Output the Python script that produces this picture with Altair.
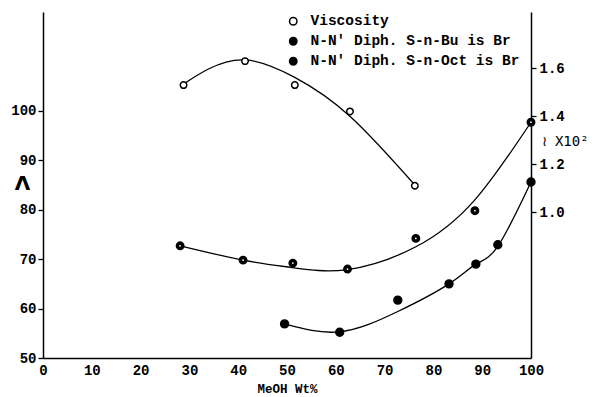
import altair as alt
import pandas as pd

# ---- data ----
SERIES = ["Viscosity", "N-N' Diph. S-n-Bu is Br", "N-N' Diph. S-n-Oct is Br"]

visc_x = [28.8, 41.4, 51.6, 62.9, 76.2]
visc_y = [1.53, 1.63, 1.53, 1.42, 1.11]
visc_curve_x = [28.8, 34.0, 41.5, 51.5, 63.0, 76.2]
visc_curve_y = [1.534, 1.598, 1.635, 1.563, 1.398, 1.113]

bu_x = [28.1, 41.0, 51.2, 62.4, 76.4, 88.5, 100.0]
bu_y = [72.7, 69.8, 69.2, 68.0, 74.2, 79.8, 97.7]
bu_curve_x = [28.1, 41.0, 51.0, 62.4, 76.4, 88.5, 100.0]
bu_curve_y = [72.7, 69.8, 68.3, 67.9, 72.5, 82.0, 97.7]

oct_x = [49.5, 60.8, 72.7, 83.2, 88.7, 93.2, 100.0]
oct_y = [56.9, 55.2, 61.7, 65.0, 69.0, 72.9, 85.6]
oct_curve_x = [49.5, 60.8, 72.7, 83.2, 88.7, 93.2, 100.0]
oct_curve_y = [56.9, 55.3, 59.4, 65.0, 69.0, 72.6, 85.6]

x_ticks = [0, 10, 20, 30, 40, 50, 60, 70, 80, 90, 100]
left_ticks = [50, 60, 70, 80, 90, 100]
right_ticks = [1.0, 1.2, 1.4, 1.6]

FONT = "Liberation Mono"

def df(xs, ys, name):
    return pd.DataFrame({"x": xs, "y": ys, "series": name})

visc_pts = df(visc_x, visc_y, SERIES[0])
visc_crv = df(visc_curve_x, visc_curve_y, SERIES[0])
bu_pts = df(bu_x, bu_y, SERIES[1])
bu_crv = df(bu_curve_x, bu_curve_y, SERIES[1])
oct_pts = df(oct_x, oct_y, SERIES[2])
oct_crv = df(oct_curve_x, oct_curve_y, SERIES[2])

X = alt.X("x:Q", scale=alt.Scale(domain=[0, 100], nice=False),
          axis=alt.Axis(values=x_ticks, format="d", ticks=False, labelPadding=5, grid=False,
                        labelFlush=False,
                        title="MeOH Wt%", titlePadding=5, titleFontSize=12.5,
                        titleFontWeight="bold", titleFont=FONT))

YL = alt.Y("y:Q", scale=alt.Scale(domain=[50, 120], nice=False, zero=False),
           axis=alt.Axis(orient="left", values=left_ticks, format="d", tickSize=5, grid=False,
                         labelPadding=2, title="Λ", titleAngle=0, titleX=-21, titleY=171,
                         titleAlign="center", titleBaseline="middle", titleFontSize=20,
                         titleFont="DejaVu Sans", titleFontWeight="bold"))

YR = alt.Y("y:Q", scale=alt.Scale(domain=[0.391, 1.835], nice=False, zero=False),
           axis=alt.Axis(orient="right", values=right_ticks, format=".1f", tickSize=5, grid=False,
                         labelPadding=3, title="≀ X10²", titleAngle=0, titleX=10, titleY=129,
                         titleAlign="left", titleBaseline="middle", titleFontSize=14,
                         titleFont="DejaVu Sans Mono", titleFontWeight="normal"))

FILL = alt.Fill("series:N",
                scale=alt.Scale(domain=SERIES, range=["white", "black", "black"]),
                legend=alt.Legend(title=None, orient="none", legendX=243, legendY=2,
                                  symbolType="circle", symbolSize=55,
                                  symbolStrokeColor="black", symbolStrokeWidth=1.5,
                                  labelFont=FONT, labelFontSize=14.5, labelFontWeight="bold",
                                  labelColor="black", labelOffset=10, rowPadding=5,
                                  padding=0, labelLimit=400))

def line(d, Y):
    return alt.Chart(d).mark_line(color="black", strokeWidth=1.3,
                                  interpolate="natural").encode(x=X, y=Y)

def pts(d, Y, size):
    return alt.Chart(d).mark_point(filled=True, shape="circle", size=size, stroke="black",
                                   strokeWidth=1.5, opacity=1).encode(x=X, y=Y, fill=FILL)

bu_dot = alt.Chart(bu_pts).mark_point(filled=True, shape="circle", size=3, color="white",
                                      opacity=1).encode(x=X, y=YL)

left = alt.layer(line(bu_crv, YL), line(oct_crv, YL), pts(bu_pts, YL, 55), bu_dot,
                 pts(oct_pts, YL, 62))
right = alt.layer(line(visc_crv, YR), pts(visc_pts, YR, 42))

chart = alt.layer(left, right).resolve_scale(y="independent").properties(
    width=488, height=346,
    autosize=alt.AutoSizeParams(type="none"),
    padding={"left": 43, "top": 12, "right": 64, "bottom": 39},
    background="white",
).configure_view(stroke=None).configure_axis(
    labelFont=FONT, labelFontSize=14, labelFontWeight="bold", labelColor="black",
    domainColor="black", domainWidth=1.5, tickColor="black", tickWidth=1.3,
    grid=False, titleColor="black"
)

chart.save("out.html", embed_options={"renderer": "svg", "actions": False})
